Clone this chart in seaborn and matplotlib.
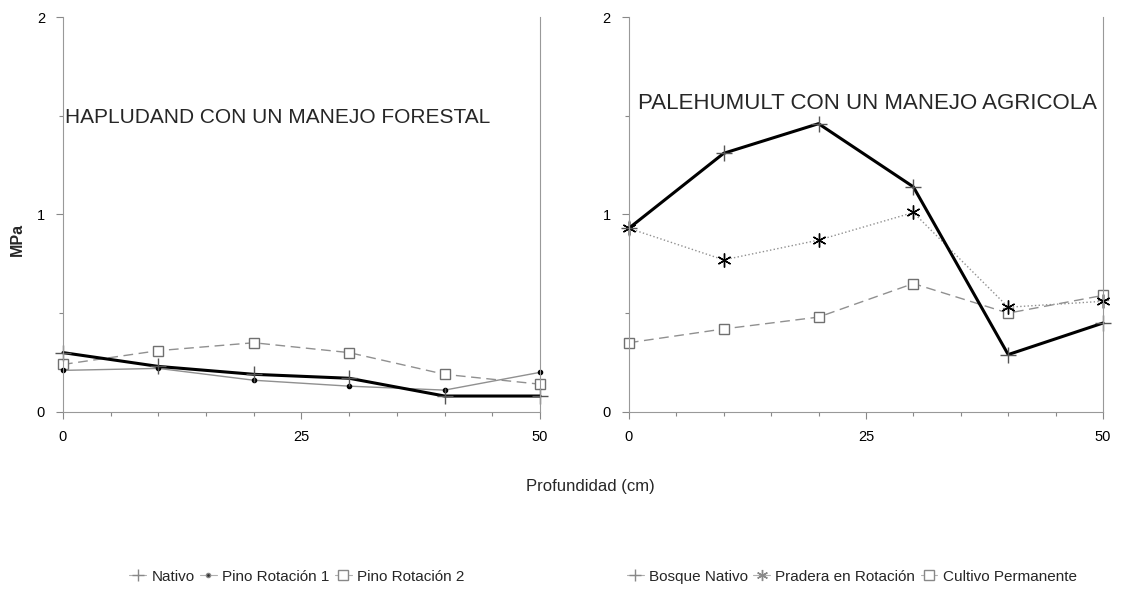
import numpy as np
import pandas as pd
import matplotlib
matplotlib.use("Agg")
import matplotlib.pyplot as plt
from matplotlib.lines import Line2D
from matplotlib.ticker import MultipleLocator
import seaborn as sns

sns.set_style("ticks")
plt.rcParams['font.family'] = ['Liberation Sans', 'DejaVu Sans']

# profundidad (cm)
depth = [0, 10, 20, 30, 40, 50]

# Hapludand - manejo forestal (MPa)
nativo = [0.30, 0.23, 0.19, 0.17, 0.08, 0.08]
pino_rot1 = [0.21, 0.22, 0.16, 0.13, 0.11, 0.20]
pino_rot2 = [0.24, 0.31, 0.35, 0.30, 0.19, 0.14]

# Palehumult - manejo agricola (MPa)
bosque_nativo = [0.93, 1.31, 1.46, 1.14, 0.29, 0.45]
pradera_rot = [0.93, 0.77, 0.87, 1.01, 0.53, 0.56]
cultivo_perm = [0.35, 0.42, 0.48, 0.65, 0.50, 0.59]

left_names = ["Nativo", "Pino Rotación 1", "Pino Rotación 2"]
right_names = ["Bosque Nativo", "Pradera en Rotación", "Cultivo Permanente"]
titles = ["HAPLUDAND CON UN MANEJO FORESTAL", "PALEHUMULT CON UN MANEJO AGRICOLA"]

# estilos de cada serie
styles = [
    dict(color="black", lw=2.2, ls="-", marker="+", mec="#555555", ms=11, mfc="none"),
    dict(color="#909090", lw=1.0, ls="-", marker="o", mec="black", ms=3, mfc="black"),
    dict(color="#909090", lw=1.0, ls=(0, (7, 4)), marker="s", mec="#707070", ms=7, mfc="white"),
]
styles_r = [
    styles[0],
    dict(color="#909090", lw=1.0, ls=":", marker=(6, 2, 0), mec="black", ms=10, mfc="black"),
    styles[2],
]

fig = plt.figure(figsize=(11.29, 5.9), dpi=100)
ax1 = fig.add_axes([0.0558, 0.302, 0.4225, 0.669])
ax2 = fig.add_axes([0.557, 0.302, 0.42, 0.669])

panels = [
    (ax1, left_names, [nativo, pino_rot1, pino_rot2], styles),
    (ax2, right_names, [bosque_nativo, pradera_rot, cultivo_perm], styles_r),
]
title_pos = [(0.2, 1.49, 15), (0.95, 1.56, 16)]

for k, (ax, names, series, sty) in enumerate(panels):
    df = pd.DataFrame({"depth": depth})
    for name, vals in zip(names, series):
        df[name] = vals
    long = df.melt(id_vars="depth", var_name="serie", value_name="MPa")
    # back to front so the thick line stays on top
    for name, st in reversed(list(zip(names, sty))):
        sub = long[long["serie"] == name]
        sns.lineplot(data=sub, x="depth", y="MPa", ax=ax, color=st["color"],
                     linewidth=st["lw"], linestyle=st["ls"], marker=st["marker"],
                     markersize=st["ms"], markeredgecolor=st["mec"],
                     markerfacecolor=st["mfc"], markeredgewidth=1.0, legend=False,
                     clip_on=False)
    ax.set_xlim(0, 50)
    ax.set_ylim(0, 2)
    ax.xaxis.set_major_locator(MultipleLocator(25))
    ax.xaxis.set_minor_locator(MultipleLocator(5))
    ax.yaxis.set_major_locator(MultipleLocator(1))
    ax.yaxis.set_minor_locator(MultipleLocator(0.5))
    ax.tick_params(which="both", direction="out", colors="#888888", labelcolor="black",
                   labelsize=10.5, width=0.8)
    ax.tick_params(which="major", length=5, pad=8)
    ax.tick_params(which="minor", length=3)
    ax.set_xlabel("")
    ax.set_ylabel("")
    for sp in ["left", "right", "bottom"]:
        ax.spines[sp].set_color("#999999")
        ax.spines[sp].set_linewidth(0.8)
    ax.spines["top"].set_visible(False)
    tx, ty, fs = title_pos[k]
    ax.text(tx, ty, titles[k], fontsize=fs, ha="left", va="center")

    handles = [Line2D([], [], color="#b0b0b0", lw=0.8, ls="-", marker=st["marker"],
                      markersize=min(st["ms"], 8), markeredgecolor="#888888",
                      markerfacecolor=("white" if st["mfc"] == "white" else
                                       ("none" if st["mfc"] == "none" else "#333333")))
               for st in sty]
    ax.legend(handles, names, loc="center",
              bbox_to_anchor=(0.49, -0.418) if k == 0 else (0.47, -0.418),
              ncol=3, frameon=False, fontsize=11, handlelength=1.1,
              handletextpad=0.35, columnspacing=0.35)

fig.text(0.015, 0.595, "MPa", rotation=90, fontsize=11.5, fontweight="bold",
         ha="center", va="center")
fig.text(0.523, 0.175, "Profundidad (cm)", fontsize=12, ha="center", va="center")

fig.savefig("out.png", dpi=100)
